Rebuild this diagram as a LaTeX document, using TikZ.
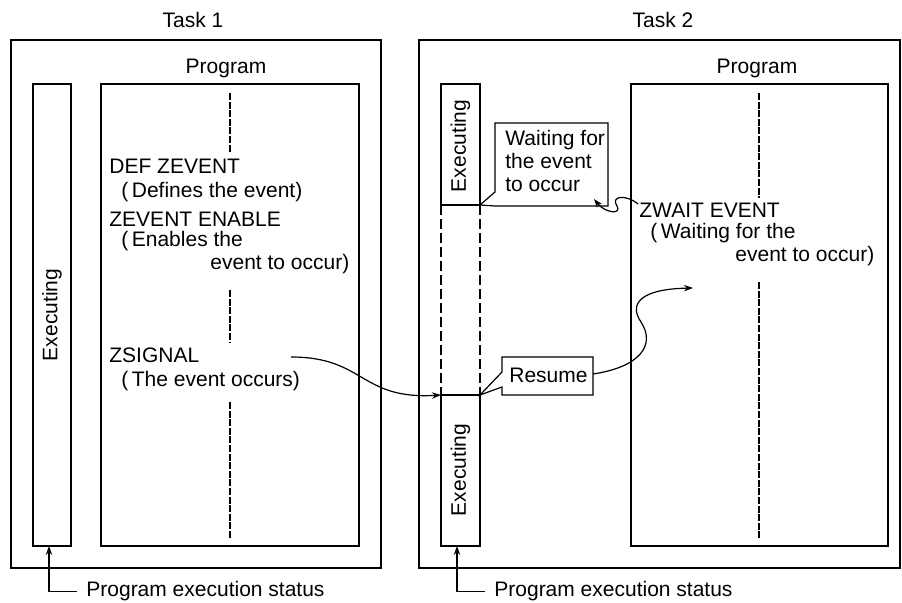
\documentclass[tikz,border=0pt]{standalone}
\usepackage{fontspec}
\setmainfont{Liberation Sans}
\usepackage{tikz}
\usetikzlibrary{
  arrows.meta,
  positioning,
  calc
}

\begin{document}
\begin{tikzpicture}[x=0.5pt, y=-0.5pt, font=\fontsize{10.5}{12}\selectfont,
    frame/.style={draw, line width=0.8pt},
    box/.style={draw, line width=0.6pt},
    centreline/.style={line width=0.9pt, dash pattern=on 3.5pt off 0.8pt},
    waitline/.style={line width=0.9pt, dash pattern=on 5pt off 2pt},
    txt/.style={anchor=base west, inner sep=0pt},
    vlabel/.style={rotate=90, inner sep=0pt},
    flow/.style={line width=0.6pt, -{Stealth[length=4.5pt, width=3.2pt]}},
    status/.style={line width=0.9pt, -{Stealth[length=4.5pt, width=3.2pt]}}]
  \useasboundingbox (0,0) rectangle (902,603);

  % task frames and program boxes
  \foreach \l/\r/\tx/\pl/\pr/\px/\n in {11/381/193/101/359/226/1, 419/900/663/631/888/757/2}{
    \draw[frame] (\l,40) rectangle (\r,568);
    \node[anchor=base] (task\n) at (\tx,28) {Task \n};
    \draw[box] (\pl,84) rectangle (\pr,546);
    \node[anchor=base] (prog\n) at (\px,74) {Program};
  }

  % execution status bars
  \draw[box] (33,84) rectangle (71,546);
  \node[vlabel] (exec1) at (52,315) {Executing};
  \draw[box] (441,84) rectangle (480,205);
  \node[vlabel] (exec2a) at (460.5,146) {Executing};
  \draw[box] (441,395) rectangle (480,546);
  \node[vlabel] (exec2b) at (460.5,470) {Executing};
  \draw[waitline] (441,205) -- (441,395) (480,205) -- (480,395);
  \coordinate (stopR) at (480,205);
  \coordinate (resL) at (441,395);
  \coordinate (resR) at (480,395);

  % program flow lines
  \draw[centreline] (230,93) -- (230,153) (230,290) -- (230,342) (230,402) -- (230,538);
  \draw[centreline] (759,93) -- (759,198) (759,282) -- (759,538);

  % task 1 program
  \node[txt] (defz) at (109,174) {DEF ZEVENT};
  \node[txt] (defzc) at (121,198) {(\,Defines the event)};
  \node[txt] (enab) at (109,227) {ZEVENT ENABLE};
  \node[txt] (enabc1) at (121,247) {(\,Enables the};
  \node[txt] (enabc2) at (210,270) {event to occur)};
  \node[txt] (zsig) at (109,363) {ZSIGNAL};
  \node[txt] (zsigc) at (121,387) {(\,The event occurs)};

  % task 2 program
  \node[txt] (zwait) at (639,218) {ZWAIT EVENT};
  \node[txt] (zwaitc1) at (650,239) {(\,Waiting for the};
  \node[txt] (zwaitc2) at (735,262) {event to occur)};

  % callouts
  \draw[box, fill=white] (495,123) -- (608,123) -- (608,206) -- (495,206) -- (stopR) -- (495,192) -- cycle;
  \foreach \t [count=\i] in {Waiting for, the event, to occur}
    \node[txt] (wait\i) at (505,{146+23*(\i-1)}) {\t};
  \draw[box, fill=white] (502,357) -- (593,357) -- (593,395) -- (502,395) -- (502,387) -- (resR) -- (502,372) -- cycle;
  \node[txt] (resume) at (509,383) {Resume};

  % event arrows
  \coordinate (sigout) at (291,357);
  \coordinate (waitout) at (638,204);
  \coordinate (waitin) at (594,199);
  \coordinate (resout) at (593,374);
  \coordinate (wakein) at (693,288);
  \draw[flow] (sigout) .. controls (365,357) and (360,400) .. (resL);
  \draw[flow] (waitout) .. controls (626,194) and (610,196) .. (617,206) .. controls (622,215) and (605,213) .. (waitin);
  \draw[flow] (resout) .. controls (640,367) and (656,345) .. (641,322) .. controls (628,303) and (642,289) .. (wakein);

  % status legend
  \foreach \x/\n in {49/1, 457/2}{
    \node[txt] (stat\n) at (\x+37,597) {Program execution status};
    \coordinate (foot\n) at (\x,546);
    \draw[status] ([xshift=-4.5pt]stat\n.west) -| (foot\n);
  }
\end{tikzpicture}
\end{document}
